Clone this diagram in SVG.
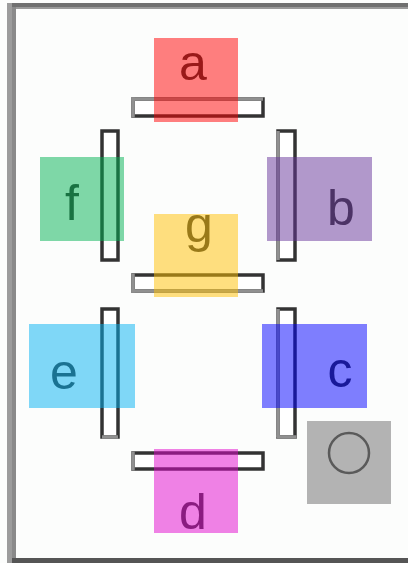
<svg xmlns="http://www.w3.org/2000/svg" width="408" height="563" viewBox="0 0 408 563">
  <style>
    .bar { fill: #ffffff; stroke: #333333; stroke-width: 3.5; }
    .edge { stroke: #909090; stroke-width: 3.5; }
    .lbl { font-family: "Liberation Sans", Arial, sans-serif; font-size: 50px; fill: #333333; text-anchor: middle; }
    .ov { opacity: 0.5; }
  </style>
  <rect x="0" y="0" width="408" height="563" fill="#fcfdfc"/>
  <g id="frame">
    <rect x="7" y="3" width="401" height="4" fill="#707070"/>
    <rect x="12" y="7" width="396" height="2" fill="#9a9a9a"/>
    <rect x="7" y="3" width="5" height="560" fill="#9c9c9c"/>
    <rect x="12" y="7" width="4" height="556" fill="#8a8a8a"/>
    <rect x="12" y="558" width="396" height="5" fill="#555555"/>
  </g>
  <g id="connectors"></g>
  <g id="seg-a">
    <rect class="bar" x="133" y="99" width="130" height="17"/>
    <line class="edge" x1="131.5" y1="99" x2="263" y2="99"/>
    <line class="edge" x1="133" y1="97.5" x2="133" y2="117.5"/>
    <text class="lbl" x="193" y="80">a</text>
    <rect class="ov" x="154" y="38" width="84" height="84" fill="#ff0000"/>
  </g>
  <g id="seg-b">
    <rect class="bar" x="278" y="131" width="17" height="129"/>
    <line class="edge" x1="278" y1="131" x2="278" y2="260"/>
    <text class="lbl" x="341" y="225">b</text>
    <rect class="ov" x="267" y="157" width="105" height="84" fill="#663399"/>
  </g>
  <g id="seg-c">
    <rect class="bar" x="278" y="309" width="17" height="128"/>
    <line class="edge" x1="278" y1="309" x2="278" y2="437"/>
    <line class="edge" x1="276.5" y1="437" x2="296.5" y2="437"/>
    <text class="lbl" x="340" y="387">c</text>
    <rect class="ov" x="262" y="324" width="105" height="84" fill="#0000ff"/>
  </g>
  <g id="seg-d">
    <rect class="bar" x="133" y="453" width="130" height="16"/>
    <line class="edge" x1="133" y1="451.5" x2="133" y2="470.5"/>
    <text class="lbl" x="193" y="529">d</text>
    <rect class="ov" x="154" y="449" width="84" height="84" fill="#e105cd"/>
  </g>
  <g id="seg-e">
    <rect class="bar" x="102" y="309" width="16" height="128"/>
    <line class="edge" x1="102" y1="437" x2="118" y2="437"/>
    <text class="lbl" x="64" y="389">e</text>
    <rect class="ov" x="29" y="324" width="106" height="84" fill="#01b1f1"/>
  </g>
  <g id="seg-f">
    <rect class="bar" x="102" y="131" width="16" height="129"/>
    <text class="lbl" x="72" y="220">f</text>
    <rect class="ov" x="40" y="157" width="84" height="84" fill="#00b151"/>
  </g>
  <g id="seg-g">
    <rect class="bar" x="133" y="275" width="130" height="16"/>
    <line class="edge" x1="133" y1="273.5" x2="133" y2="292.5"/>
    <line class="edge" x1="131.5" y1="291" x2="263" y2="291"/>
    <text class="lbl" x="199" y="242">g</text>
    <rect class="ov" x="154" y="214" width="84" height="83" fill="#ffc000"/>
  </g>
  <g id="seg-dp">
    <rect x="307" y="421" width="84" height="83" fill="#b3b3b3"/>
    <circle cx="349" cy="453" r="20" fill="none" stroke="#5a5a5a" stroke-width="2.5"/>
  </g>
</svg>
